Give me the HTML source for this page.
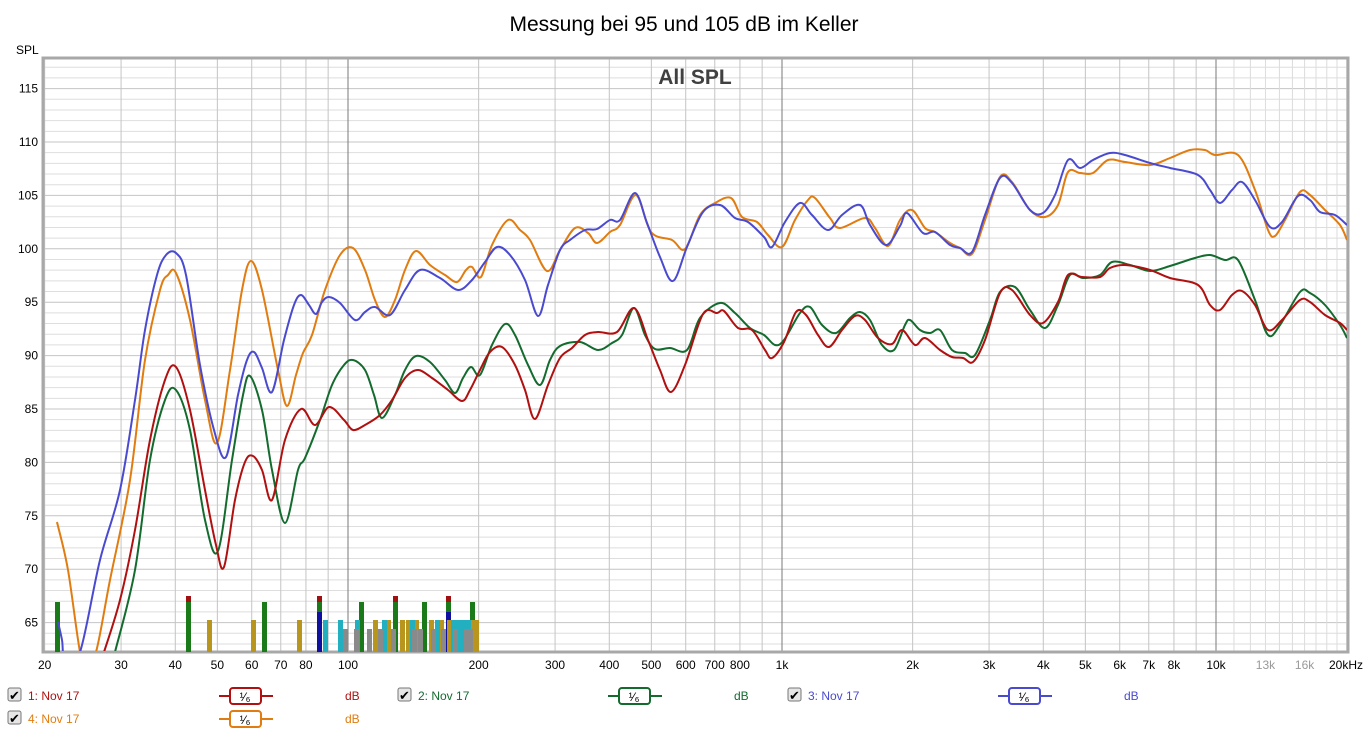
<!DOCTYPE html>
<html><head><meta charset="utf-8"><style>
body{margin:0;background:#fff;width:1369px;height:734px;overflow:hidden;font-family:"Liberation Sans",sans-serif;}
svg text{font-family:"Liberation Sans",sans-serif;}
</style></head><body>
<svg id="s" width="1369" height="734" xmlns="http://www.w3.org/2000/svg">
<rect width="1369" height="734" fill="#fff"/>
<text x="684" y="31" font-size="21" text-anchor="middle" fill="#000">Messung bei 95 und 105 dB im Keller</text>
<text x="16" y="54" font-size="12" fill="#000">SPL</text>
<g id="grid"></g>
<rect x="43" y="58" width="1305" height="594" fill="none" stroke="#a8a8a8" stroke-width="3"/>
<text x="695" y="84" font-size="21" font-weight="bold" fill="#404040" text-anchor="middle">All SPL</text>
<g id="bars"></g>
<g id="curves" fill="none" stroke-width="2"></g>
<g id="lab" font-size="12"></g>
<g id="leg" font-size="12"></g>
</svg>
<script>
var NS="http://www.w3.org/2000/svg";
function el(p,t,a,txt){var e=document.createElementNS(NS,t);for(var k in a)e.setAttribute(k,a[k]);if(txt!=null)e.textContent=txt;document.getElementById(p).appendChild(e);return e;}
function X(f){return 348+(Math.log10(f)-2)*434;}
function Y(d){return 142+(110-d)*10.68;}
for(var d=63;d<=117;d++){var y=Y(d);el("grid","line",{x1:44,x2:1347,y1:y,y2:y,stroke:d%5==0?"#c4c4c4":"#dedede","stroke-width":1});
 if(d%5==0&&d<=115)el("lab","text",{x:38,y:y+4,"text-anchor":"end",fill:"#000"},d);}
var fs=[];for(var f=20;f<=100;f+=10)fs.push(f);for(var f=200;f<=1000;f+=100)fs.push(f);for(var f=2000;f<=10000;f+=1000)fs.push(f);
for(var f=11000;f<=20000;f+=1000)fs.push(f);
fs.forEach(function(f){var x=X(f);var major=(f==100||f==1000||f==10000);var lite=f>10000;
 el("grid","line",{x1:x,x2:x,y1:59,y2:651,stroke:major?"#7a7a7a":(lite?"#dcdcdc":"#c4c4c4"),"stroke-width":1});});
var labs=[[20,"20"],[30,"30"],[40,"40"],[50,"50"],[60,"60"],[70,"70"],[80,"80"],[100,"100"],[200,"200"],[300,"300"],[400,"400"],[500,"500"],[600,"600"],[700,"700"],[800,"800"],[1000,"1k"],[2000,"2k"],[3000,"3k"],[4000,"4k"],[5000,"5k"],[6000,"6k"],[7000,"7k"],[8000,"8k"],[10000,"10k"],[13000,"13k"],[16000,"16k"]];
labs.forEach(function(l){el("lab","text",{x:X(l[0]),y:669,"text-anchor":"middle",fill:(l[0]==13000||l[0]==16000)?"#999":"#000"},l[1]);});
el("lab","text",{x:1363,y:669,"text-anchor":"end",fill:"#000"},"20kHz");
function bar(x,top,c){el("bars","rect",{x:x-2,y:top,width:5,height:652-top,fill:c});}
[[57,"g"],[188,"gr"],[264,"g"],[319,"grb"],[361,"g"],[395,"gr"],[424,"g"],[448,"grb"],[472,"g"]].forEach(function(b){
 if(b[1].indexOf("r")>0)bar(b[0],596,"#a01010");bar(b[0],602,"#1a7a1a");
 if(b[1]=="grb")bar(b[0],612,"#1010a0");});
[209,253,299,375,388,402,408,416,431,441,449,460,473,476].forEach(function(x){bar(x,620,"#b8961e");});
[325,340,357,384,412,437,453,458,463,468].forEach(function(x){bar(x,620,"#22b0c0");});
[345,356,369,380,393,414,420,433,443,455,466,470].forEach(function(x){bar(x,629,"#8a8a8a");});
function path(p){var s="M"+p[0][0]+","+p[0][1];for(var i=0;i<p.length-1;i++){var a=p[i-1]||p[i],b=p[i],c=p[i+1],d=p[i+2]||c;
 s+=" C"+(b[0]+(c[0]-a[0])/6).toFixed(1)+","+(b[1]+(c[1]-a[1])/6).toFixed(1)+" "+(c[0]-(d[0]-b[0])/6).toFixed(1)+","+(c[1]-(d[1]-b[1])/6).toFixed(1)+" "+c[0]+","+c[1];}return s;}
var blue=[[58,622],[62,640],[65,660],[80,652],[100,560],[120,490],[135,400],[145,330],[157,275],[166,255],[176,253],[186,275],[200,365],[214,430],[226,457],[238,395],[247,360],[254,352],[262,368],[272,392],[284,340],[294,305],[301,295],[309,305],[316,314],[322,302],[329,297],[340,303],[355,320],[365,312],[375,307],[390,315],[405,290],[420,270],[440,278],[458,290],[472,280],[485,262],[497,247],[510,255],[525,280],[538,316],[548,285],[560,250],[570,240],[585,230],[597,229],[610,220],[620,220],[635,193],[647,223],[660,257],[673,281],[687,247],[703,212],[720,205],[735,218],[748,222],[764,237],[772,247],[785,222],[800,203],[812,215],[828,230],[842,215],[860,205],[870,225],[886,245],[900,226],[907,213],[923,233],[935,232],[950,245],[960,248],[972,252],[985,215],[1000,178],[1012,183],[1030,210],[1043,213],[1055,195],[1068,160],[1080,168],[1093,160],[1110,153],[1125,155],[1150,163],[1170,168],[1198,175],[1210,190],[1220,203],[1232,190],[1242,182],[1255,200],[1270,227],[1282,222],[1298,196],[1310,200],[1320,212],[1335,215],[1347,225]];
var orange=[[57,522],[68,570],[80,652],[86,662],[96,652],[110,580],[130,480],[145,360],[160,290],[168,275],[176,273],[190,320],[205,400],[217,443],[230,370],[242,290],[251,261],[262,290],[278,370],[287,406],[296,375],[303,353],[312,335],[325,290],[340,255],[353,248],[365,270],[375,300],[385,317],[395,300],[405,270],[416,251],[430,265],[445,275],[457,282],[466,270],[472,267],[481,277],[492,245],[508,220],[520,230],[530,240],[547,271],[560,250],[575,228],[588,233],[597,243],[610,232],[620,225],[636,195],[651,232],[672,240],[685,249],[700,215],[715,203],[731,198],[742,217],[757,222],[768,235],[782,247],[795,220],[808,200],[815,198],[830,218],[840,228],[865,218],[875,228],[888,246],[900,220],[912,210],[925,228],[935,232],[950,243],[960,248],[972,254],[985,220],[1000,177],[1012,182],[1030,210],[1045,217],[1058,205],[1068,172],[1080,173],[1093,173],[1108,160],[1125,162],[1150,165],[1170,158],[1190,150],[1205,150],[1215,155],[1238,155],[1255,190],[1268,230],[1275,236],[1285,220],[1300,192],[1310,195],[1325,210],[1340,225],[1347,240]];
var red=[[100,662],[104,652],[120,600],[135,530],[150,440],[165,380],[176,367],[190,410],[205,490],[216,545],[224,567],[235,500],[245,462],[253,456],[262,470],[272,500],[285,440],[301,409],[315,425],[329,407],[344,420],[353,430],[365,425],[380,415],[392,400],[405,378],[418,370],[432,378],[448,390],[462,401],[470,390],[480,370],[490,352],[502,347],[515,365],[525,390],[535,419],[548,385],[560,358],[572,348],[585,335],[598,332],[617,332],[634,308],[648,340],[660,370],[671,392],[685,365],[703,314],[717,313],[724,311],[738,328],[752,330],[765,350],[772,358],[784,342],[796,312],[806,315],[818,335],[829,347],[842,330],[855,316],[865,320],[878,338],[892,344],[902,330],[915,345],[925,338],[940,350],[952,357],[963,358],[973,362],[985,340],[1000,293],[1012,290],[1030,315],[1043,323],[1058,302],[1068,275],[1082,277],[1100,277],[1110,268],[1125,265],[1150,270],[1170,278],[1198,285],[1210,305],[1220,310],[1232,295],[1242,291],[1255,305],[1268,330],[1282,320],[1300,300],[1310,302],[1325,315],[1340,323],[1347,330]];
var green=[[112,662],[115,652],[135,570],[150,460],[165,400],[176,390],[190,430],[205,520],[218,551],[232,460],[243,395],[250,376],[262,410],[272,470],[285,523],[298,470],[305,458],[320,420],[332,385],[344,365],[353,360],[365,370],[374,395],[382,418],[395,395],[405,370],[416,356],[430,362],[445,380],[455,393],[463,378],[471,367],[480,375],[492,345],[505,324],[515,335],[528,365],[540,385],[550,360],[560,346],[580,342],[598,350],[612,343],[622,335],[634,308],[645,335],[655,349],[670,348],[687,350],[700,318],[720,303],[735,313],[750,328],[764,335],[775,345],[784,340],[800,313],[810,307],[822,325],[836,333],[850,318],[860,312],[870,320],[882,345],[894,350],[905,325],[910,320],[920,330],[930,333],[940,330],[952,350],[965,353],[975,355],[990,320],[1000,292],[1015,287],[1030,310],[1045,328],[1058,305],[1070,275],[1083,278],[1100,275],[1112,262],[1130,265],[1150,271],[1170,266],[1195,258],[1210,255],[1225,260],[1238,260],[1255,300],[1268,335],[1280,325],[1300,292],[1310,293],[1325,305],[1340,325],[1347,338]];
var cp=el("curves","clipPath",{id:"cp"});var r=document.createElementNS(NS,"rect");r.setAttribute("x",44);r.setAttribute("y",59);r.setAttribute("width",1303);r.setAttribute("height",592);cp.appendChild(r);
document.getElementById("curves").setAttribute("clip-path","url(#cp)");
[[green,"#136b2e"],[red,"#b01010"],[orange,"#e07c10"],[blue,"#4a4ad0"]].forEach(function(s){el("curves","path",{d:path(s[0]),stroke:s[1]});});
function leg(x,y,label,col,bx,dx){
 el("leg","rect",{x:x,y:y-12,width:13,height:13,rx:2,fill:"#e6e6e6",stroke:"#777"});
 el("leg","text",{x:x+1,y:y,"font-size":"13",fill:"#000"},"\u2714");
 el("leg","text",{x:x+20,y:y,fill:col},label);
 el("leg","line",{x1:bx,x2:bx+54,y1:y-4,y2:y-4,stroke:col,"stroke-width":2});
 el("leg","rect",{x:bx+11,y:y-12,width:31,height:16,rx:3,fill:"#fff",stroke:col,"stroke-width":2});
 el("leg","text",{x:bx+26,y:y+1,"text-anchor":"middle",fill:"#000"},"\u00B9\u2044\u2086");
 el("leg","text",{x:dx,y:y,fill:col},"dB");}
leg(8,700,"1: Nov 17","#b01010",219,345);
leg(398,700,"2: Nov 17","#136b2e",608,734);
leg(788,700,"3: Nov 17","#4a4ad0",998,1124);
leg(8,723,"4: Nov 17","#e07c10",219,345);
</script>
</body></html>
